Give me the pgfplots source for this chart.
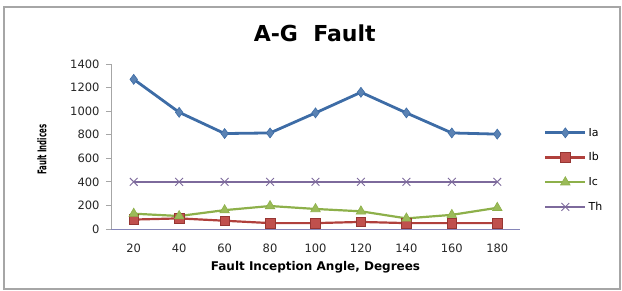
\documentclass[border=0pt]{standalone}
\usepackage{pgfplots}
\pgfplotsset{compat=1.18}
\usepackage{fontspec}
\setmainfont{DejaVu Sans}
\definecolor{cIa}{HTML}{3D6CA6}
\definecolor{cIb}{HTML}{B0403C}
\definecolor{cIbf}{HTML}{C0504D}
\definecolor{cIc}{HTML}{8DB04A}
\definecolor{cIcf}{HTML}{9BBB59}
\definecolor{cTh}{HTML}{7D6A9C}
\definecolor{axgray}{HTML}{A6A6A6}
\begin{document}
\begin{tikzpicture}[x=1pt,y=1pt]
\useasboundingbox (0,0) rectangle (622,291);
\draw[axgray, line width=1.2pt] (4,2) rectangle (620,284);
\begin{axis}[
  at={(111pt,62pt)}, anchor=south west,
  scale only axis, width=409pt, height=165pt,
  xmin=-0.5, xmax=8.5, ymin=0, ymax=1400,
  xtick={0,...,8}, xticklabels={20,40,60,80,100,120,140,160,180},
  ytick={0,200,...,1400},
  axis x line*=bottom, axis y line*=left,
  axis line style={axgray, line width=0.8pt, -},
  x axis line style={draw=axgray!80!blue},
  tick align=outside, major tick length=5pt,
  ytick style={axgray, line width=0.8pt},
  xtick style={draw=none},
  /pgf/number format/assume math mode=true,
  /pgf/number format/1000 sep={},
  tick label style={font=\fontsize{11.5}{12}\selectfont, text=black!85},
  xticklabel style={yshift=-6pt},
  yticklabel style={xshift=-3pt},
  title={\fontsize{22}{24}\selectfont\bfseries A-G\ \ Fault},
  title style={at={(axis description cs:0.498,1.15)}, anchor=center},
  xlabel={\fontsize{12}{14}\selectfont\bfseries Fault Inception Angle, Degrees},
  xlabel style={at={(axis description cs:0.5,-0.23)}, anchor=center},
  ylabel={\scalebox{0.58}[1]{\fontsize{12}{14}\selectfont\bfseries Fault Indices}},
  ylabel style={at={(axis description cs:-0.169,0.48)}, anchor=center},
  legend style={draw=none, fill=none, at={(1.058,0.625)}, anchor=north west,
    font=\fontsize{11}{12}\selectfont, row sep=11pt, inner sep=0pt},
  legend cell align=left,
  legend image code/.code={\draw[mark repeat=2,mark phase=2,#1] plot coordinates {(0pt,0pt) (20pt,0pt) (40pt,0pt)};},
  clip=false,
]
\addplot[cIa, line width=2.8pt, mark=diamond*, mark size=5pt, mark options={fill=cIa!85!white, draw=cIa, line width=0.6pt}]
  coordinates {(0,1270) (1,990) (2,810) (3,815) (4,985) (5,1160) (6,985) (7,815) (8,805)};
\addlegendentry{Ia}
\addplot[cIb, line width=2.2pt, mark=square*, mark size=4.8pt, mark options={fill=cIbf, draw=cIb!85!black, line width=0.6pt}]
  coordinates {(0,80) (1,90) (2,70) (3,50) (4,50) (5,60) (6,50) (7,50) (8,50)};
\addlegendentry{Ib}
\addplot[cIc, line width=2.2pt, mark=triangle*, mark size=5.5pt, mark options={fill=cIcf, draw=cIc, line width=0.6pt}]
  coordinates {(0,130) (1,110) (2,160) (3,195) (4,170) (5,150) (6,90) (7,120) (8,180)};
\addlegendentry{Ic}
\addplot[cTh, line width=2.6pt, mark=x, mark size=5.5pt, mark options={draw=cTh, line width=0.9pt}]
  coordinates {(0,400) (1,400) (2,400) (3,400) (4,400) (5,400) (6,400) (7,400) (8,400)};
\addlegendentry{Th}
\end{axis}
\end{tikzpicture}
\end{document}
